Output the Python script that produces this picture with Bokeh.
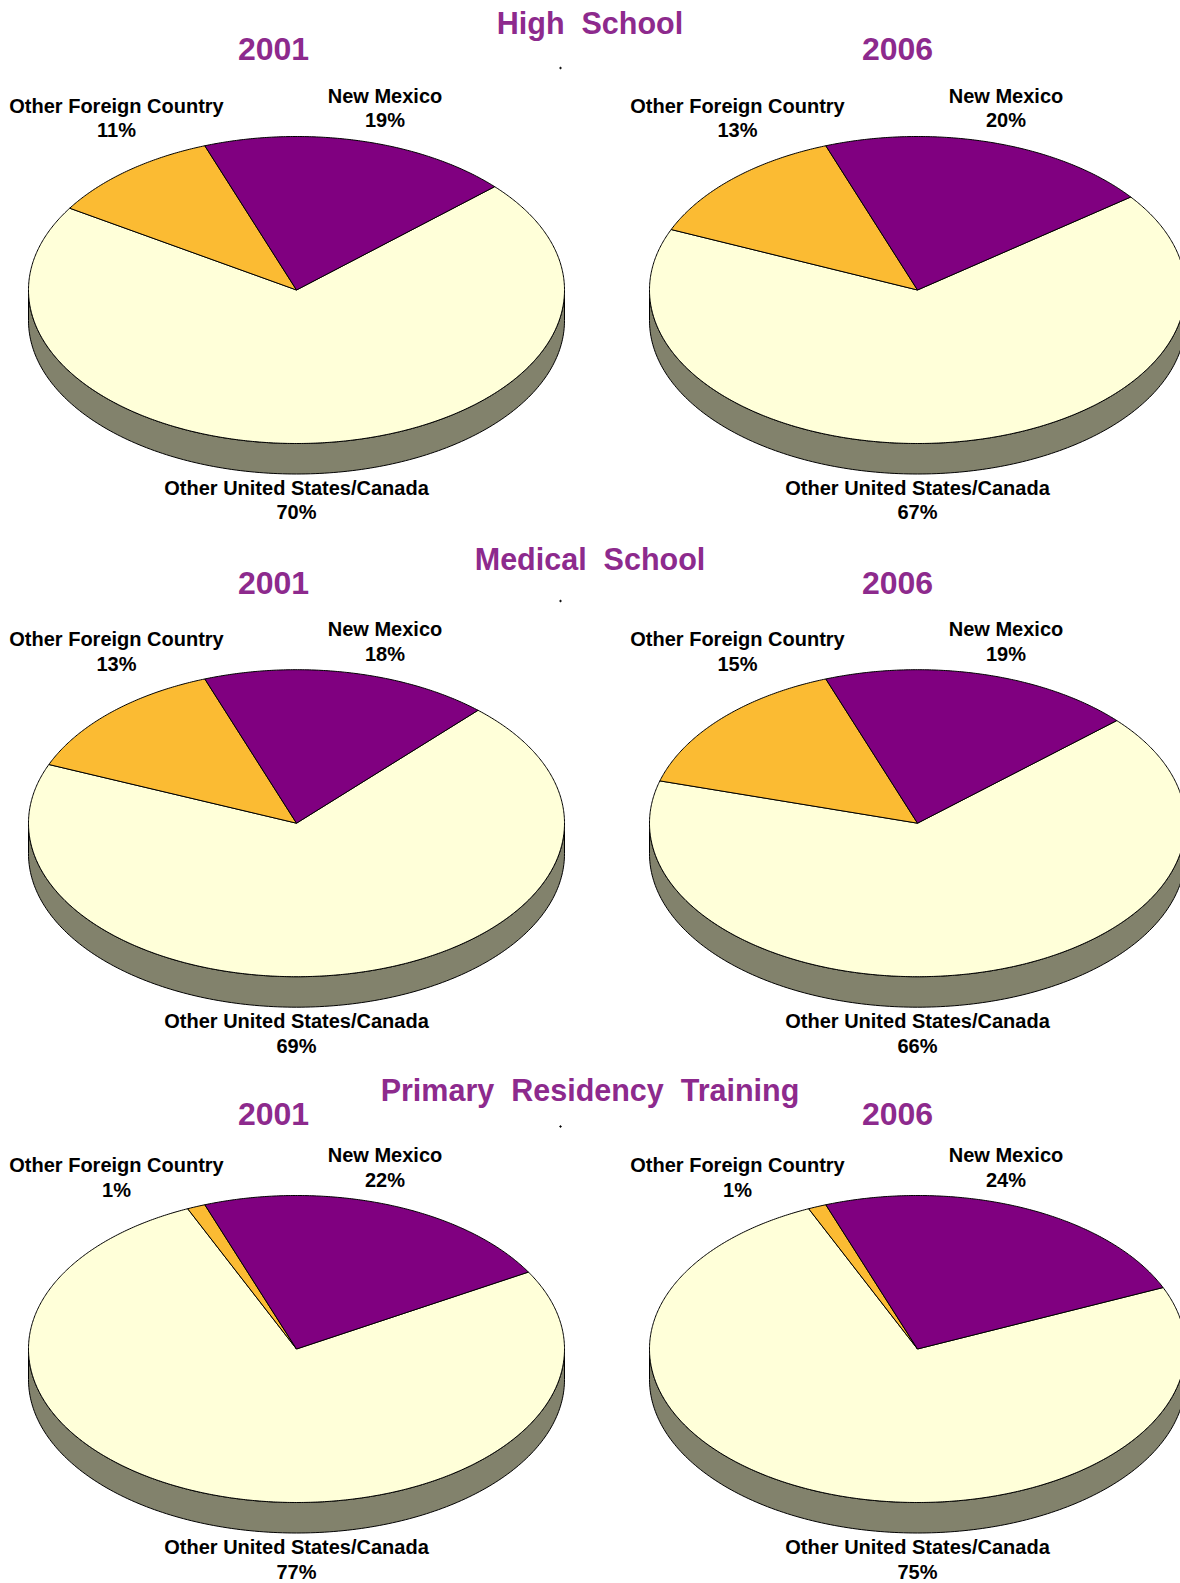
import math
from bokeh.plotting import figure
from bokeh.models import Range1d, ColumnDataSource
from bokeh.core.properties import value
from bokeh.embed import file_html
from bokeh.resources import INLINE

# ---- data ----
section_titles = ["High\u00a0 School", "Medical\u00a0 School", "Primary\u00a0 Residency\u00a0 Training"]
years = ["2001", "2006"]
categories = ["New Mexico", "Other Foreign Country", "Other United States/Canada"]
# printed percentages
new_mexico_labels = [[19, 20], [18, 19], [22, 24]]
other_foreign_labels = [[11, 13], [13, 15], [1, 1]]
other_us_canada_labels = [[70, 67], [69, 66], [77, 75]]
# slice sizes
new_mexico = [[18.8, 20.2], [17.4, 18.9], [22.2, 24.0]]
other_foreign = [[10.5, 13.0], [13.2, 15.0], [1.1, 1.1]]

# ---- style and layout ----
colors = ["#800080", "#FBBB33", "#FFFFD9"]
side_color = "#82826C"
title_color = "#8D2A8D"
FONT = value("Liberation Sans")
W, H = 1180, 1583
column_cx = [296, 917]
year_x = [273, 897]
row_cy = [289.5, 822.7, 1348.5]
title_y = [22, 558, 1089]
year_y = [48.5, 582.5, 1113.5]
dot_y = [67.5, 600.5, 1126]
pct_shift = [0, 1, 1]
us_pct_shift = [-1, 0, 0]
RX, RY, DEPTH = 268, 153.5, 30.5
START = -20.0

p = figure(width=W, height=H, x_range=Range1d(0, W), y_range=Range1d(H, 0),
           toolbar_location=None, output_backend="svg", min_border=0, outline_line_color=None)
p.axis.visible = False
p.grid.visible = False
p.background_fill_color = "white"


def pt(cx, cy, deg):
    t = math.radians(deg)
    return cx + RX * math.sin(t), cy - RY * math.cos(t)


def wedge(cx, cy, a0, a1):
    n = max(2, int(abs(a1 - a0)) * 2)
    pts = [pt(cx, cy, a0 + (a1 - a0) * i / n) for i in range(n + 1)]
    return [cx] + [q[0] for q in pts] + [cx], [cy] + [q[1] for q in pts] + [cy]


def label(x, y, s, size, color="black"):
    p.text([x], [y], text=[s], text_font=FONT, text_font_style="bold", text_font_size=size,
           text_align="center", text_baseline="middle", text_color=color)


for r in range(3):
    cy = row_cy[r]
    label(589.5, title_y[r], section_titles[r], "30.5px", title_color)
    p.scatter([560], [dot_y[r]], size=1.5, color="black")
    for c in range(2):
        cx = column_cx[c]
        label(year_x[c], year_y[r], years[c], "32px", title_color)
        # side wall
        lo = [pt(cx, cy, a) for a in range(90, 271)]
        sx = [q[0] for q in lo] + [q[0] for q in reversed(lo)]
        sy = [q[1] for q in lo] + [q[1] + DEPTH for q in reversed(lo)]
        p.patch(sx, sy, fill_color=side_color, line_color="black", line_width=1)
        # slices, clockwise from the start angle
        nm_end = START + new_mexico[r][c] * 3.6
        fo_start = START - other_foreign[r][c] * 3.6
        spans = [(START, nm_end), (fo_start, START), (nm_end, fo_start + 360)]
        xs, ys = [], []
        for a0, a1 in spans:
            wx, wy = wedge(cx, cy, a0, a1)
            xs.append(wx)
            ys.append(wy)
        src = ColumnDataSource(dict(xs=[xs[2], xs[1], xs[0]], ys=[ys[2], ys[1], ys[0]],
                                    fill=[colors[2], colors[1], colors[0]]))
        p.patches("xs", "ys", source=src, fill_color="fill", line_color="black", line_width=1)
        # labels
        label(cx + 88.5, cy - 194, categories[0], "20px")
        label(cx + 88.5, cy - 170 + pct_shift[r], f"{new_mexico_labels[r][c]}%", "20px")
        label(cx - 180, cy - 184, categories[1], "20px")
        label(cx - 180, cy - 160 + pct_shift[r], f"{other_foreign_labels[r][c]}%", "20px")
        label(cx, cy + 198, categories[2], "20px")
        label(cx, cy + 222.5 + us_pct_shift[r], f"{other_us_canada_labels[r][c]}%", "20px")

open("out.html", "w").write(file_html(p, INLINE))
